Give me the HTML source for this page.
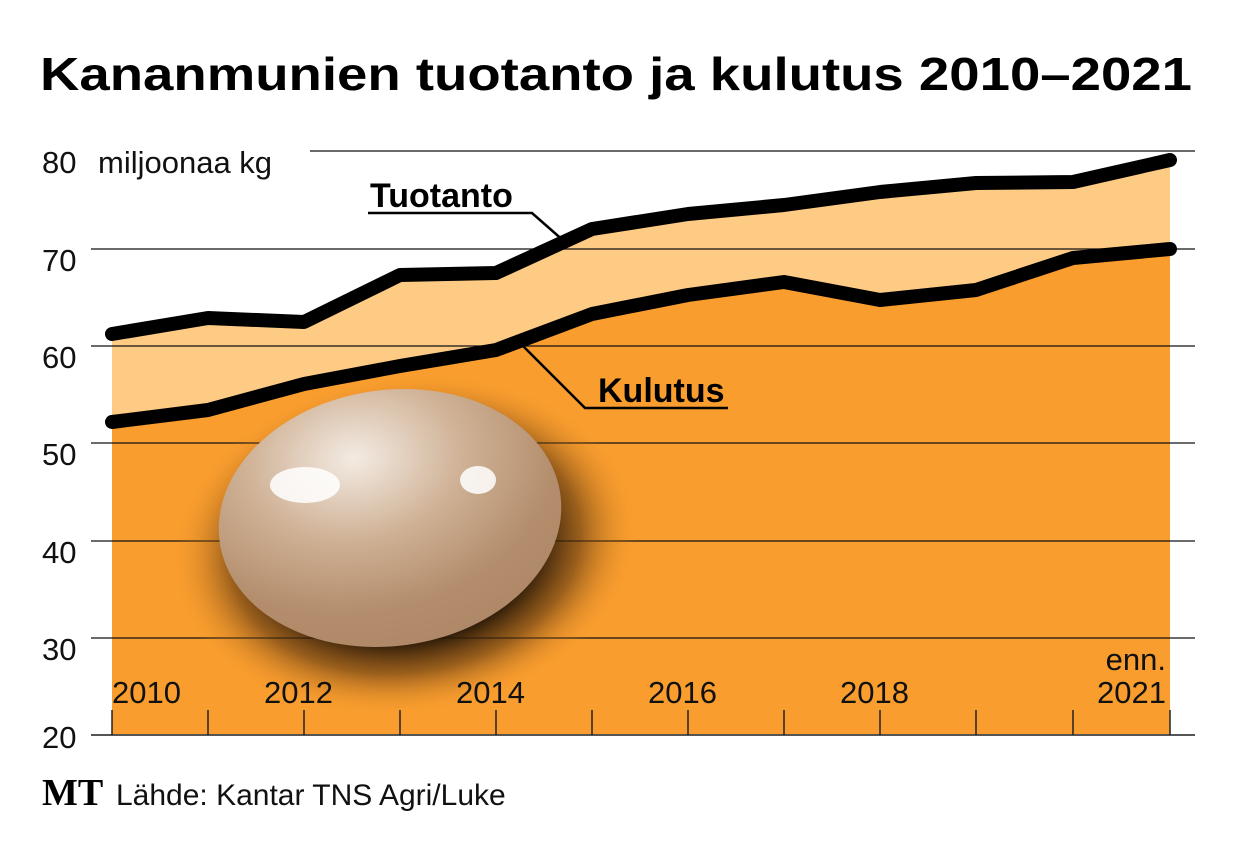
<!DOCTYPE html>
<html><head><meta charset="utf-8"><style>body{margin:0;background:#fff}svg{display:block}</style></head><body>
<svg width="1240" height="854" viewBox="0 0 1240 854" xmlns="http://www.w3.org/2000/svg" font-family="Liberation Sans, sans-serif">
<defs>
<radialGradient id="sh" cx="0.5" cy="0.5" r="0.5"><stop offset="0.55" stop-color="#1e1206" stop-opacity="1"/><stop offset="0.75" stop-color="#5a3510" stop-opacity="0.6"/><stop offset="1" stop-color="#f99d2e" stop-opacity="0"/></radialGradient>
<radialGradient id="egg" cx="0.42" cy="0.25" r="0.8"><stop offset="0" stop-color="#f3ebe3"/><stop offset="0.4" stop-color="#cfb195"/><stop offset="0.75" stop-color="#b38d6c"/><stop offset="1" stop-color="#ad8766"/></radialGradient>
</defs>
<text x="40" y="90" font-size="46" font-weight="bold" textLength="1152" lengthAdjust="spacingAndGlyphs">Kananmunien tuotanto ja kulutus 2010–2021</text>
<polygon fill="#fdcb84" points="112,334 208,318 304,322 400,275 496,273 592,229 688,214 784,205 880,192 976,183 1073,182 1170,160 1170,735 112,735"/>
<polygon fill="#f99d2e" points="112,422 208,410 304,384 400,366 496,350 592,314 688,295 784,282 880,300 976,290 1073,258 1170,249 1170,735 112,735"/>
<g stroke="#111" stroke-width="1.3">
<line x1="310" y1="151" x2="1195" y2="151"/><line x1="91" y1="249" x2="1195" y2="249"/><line x1="91" y1="346" x2="1195" y2="346"/><line x1="91" y1="443" x2="1195" y2="443"/><line x1="91" y1="541" x2="1195" y2="541"/><line x1="91" y1="638" x2="1195" y2="638"/><line x1="91" y1="735" x2="1195" y2="735" stroke="#555" stroke-width="2"/>
</g>
<g stroke="#222" stroke-width="1.5">
<line x1="112" y1="710" x2="112" y2="735"/><line x1="208" y1="710" x2="208" y2="735"/><line x1="304" y1="710" x2="304" y2="735"/><line x1="400" y1="710" x2="400" y2="735"/><line x1="496" y1="710" x2="496" y2="735"/><line x1="592" y1="710" x2="592" y2="735"/><line x1="688" y1="710" x2="688" y2="735"/><line x1="784" y1="710" x2="784" y2="735"/><line x1="880" y1="710" x2="880" y2="735"/><line x1="976" y1="710" x2="976" y2="735"/><line x1="1073" y1="710" x2="1073" y2="735"/><line x1="1170" y1="710" x2="1170" y2="735"/>
</g>
<ellipse cx="405" cy="545" rx="235" ry="170" transform="rotate(-8 405 545)" fill="url(#sh)"/>
<ellipse cx="390" cy="518" rx="172" ry="128" transform="rotate(-8 390 518)" fill="url(#egg)"/>
<ellipse cx="305" cy="485" rx="35" ry="18" fill="#fff" opacity="0.85"/>
<ellipse cx="478" cy="480" rx="18" ry="14" fill="#fff" opacity="0.85"/>
<g fill="none" stroke="#000" stroke-width="14" stroke-linecap="round" stroke-linejoin="round">
<polyline points="112,334 208,318 304,322 400,275 496,273 592,229 688,214 784,205 880,192 976,183 1073,182 1170,160"/>
<polyline points="112,422 208,410 304,384 400,366 496,350 592,314 688,295 784,282 880,300 976,290 1073,258 1170,249"/>
</g>
<g stroke="#000" stroke-width="2.5" fill="none">
<polyline points="368,213 532,213 565,242"/>
<polyline points="522,345 585,408 728,408"/>
</g>
<text x="370" y="207" font-size="34" font-weight="bold">Tuotanto</text>
<text x="598" y="402" font-size="34" font-weight="bold">Kulutus</text>
<g font-size="31" fill="#111">
<text x="42" y="173">80</text><text x="98" y="173" font-size="31">miljoonaa kg</text>
<text x="42" y="271">70</text><text x="42" y="368">60</text><text x="42" y="465">50</text><text x="42" y="563">40</text><text x="42" y="660">30</text><text x="42" y="748">20</text>
<text x="112" y="703">2010</text><text x="264" y="703">2012</text><text x="456" y="703">2014</text><text x="648" y="703">2016</text><text x="840" y="703">2018</text>
<text x="1166" y="670" text-anchor="end">enn.</text><text x="1166" y="703" text-anchor="end">2021</text>
</g>
<text x="42" y="805" font-size="38" font-weight="bold" font-family="Liberation Serif, serif">MT</text>
<text x="116" y="805" font-size="30" fill="#111">Lähde: Kantar TNS Agri/Luke</text>
</svg>
</body></html>
